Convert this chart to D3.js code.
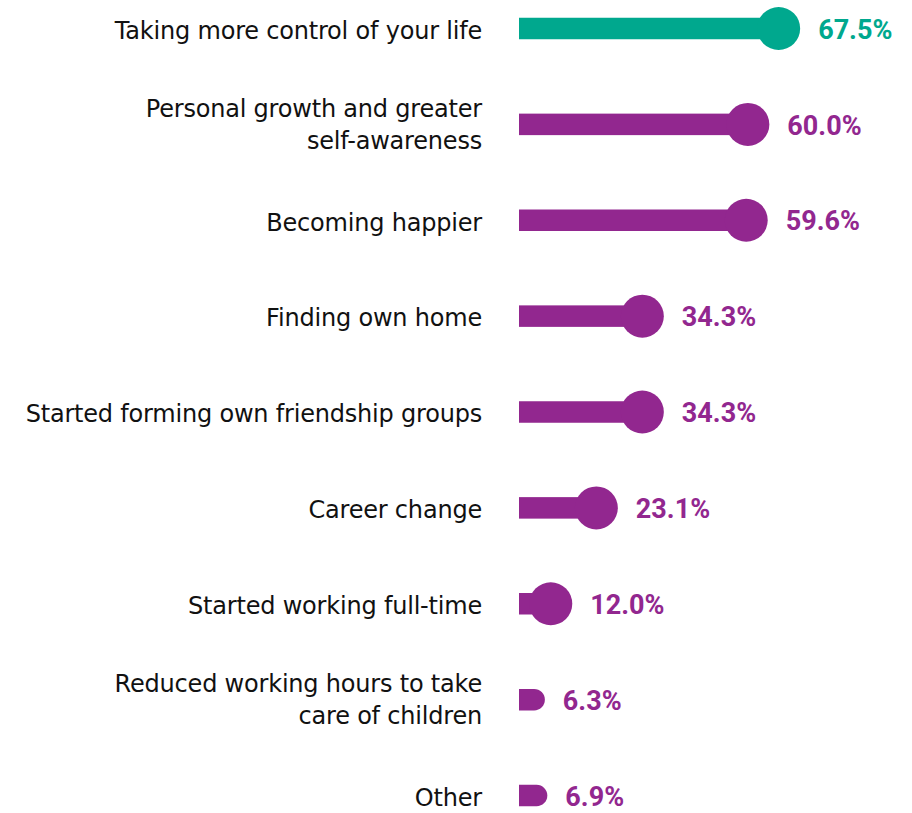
<!DOCTYPE html>
<html>
<head>
<meta charset="utf-8">
<script src="https://cdn.jsdelivr.net/npm/d3@7"></script>
<style>
  html, body { margin: 0; padding: 0; background: #fff; }
  svg { display: block; }
</style>
</head>
<body>
<svg id="chart" width="912" height="813"></svg>
<script>
const categories = [
  ["Taking more control of your life"],
  ["Personal growth and greater", "self-awareness"],
  ["Becoming happier"],
  ["Finding own home"],
  ["Started forming own friendship groups"],
  ["Career change"],
  ["Started working full-time"],
  ["Reduced working hours to take", "care of children"],
  ["Other"]
];
const values = [67.5, 60.0, 59.6, 34.3, 34.3, 23.1, 12.0, 6.3, 6.9];
const valueLabels = ["67.5%", "60.0%", "59.6%", "34.3%", "34.3%", "23.1%", "12.0%", "6.3%", "6.9%"];
const highlight = [true, false, false, false, false, false, false, false, false];

const TEAL = "#00A88E";
const PURPLE = "#92278F";

const svg = d3.select("#chart");
const x = d3.scaleLinear().domain([0, 100]).range([519, 929.6]);
const y = d3.scalePoint().domain(d3.range(values.length)).range([28.5, 795.5]);

const barH = 21.5;
const r = 21.5;
const capOffset = 17.5;

const rows = svg.selectAll("g.row").data(values).join("g").attr("class", "row")
  .attr("transform", (d, i) => `translate(0,${y(i)})`);

rows.each(function(v, i) {
  const g = d3.select(this);
  const col = highlight[i] ? TEAL : PURPLE;
  const end = x(v);
  const cx = end - capOffset;
  const big = cx - r >= x(0);
  if (big) {
    g.append("rect").attr("x", x(0)).attr("y", -barH / 2)
      .attr("width", cx - x(0)).attr("height", barH).attr("fill", col);
    g.append("circle").attr("cx", cx).attr("cy", 0).attr("r", r).attr("fill", col);
  } else {
    const h = barH / 2;
    const x0 = x(0);
    const p = d3.path();
    p.moveTo(x0, -h);
    p.lineTo(end - h, -h);
    p.arc(end - h, 0, h, -Math.PI / 2, Math.PI / 2);
    p.lineTo(x0, h);
    p.closePath();
    g.append("path").attr("d", p.toString()).attr("fill", col);
  }
  const labelX = big ? cx + r + 18 : end + 18;
  g.append("text").attr("x", labelX).attr("y", 10.2)
    .attr("fill", col)
    .style("font-family", "Roboto, sans-serif").style("font-weight", "700")
    .style("font-size", "27px")
    .text(valueLabels[i]);

  const lines = categories[i];
  const lh = 31.7;
  const base = lines.length > 1 ? 8.6 : 10.3;
  const t = g.append("text").attr("text-anchor", "end")
    .attr("fill", "#111")
    .style("font-family", "'DejaVu Sans', sans-serif").style("font-size", "24px")
    .style("letter-spacing", "-0.2px");
  lines.forEach((ln, j) => {
    t.append("tspan").attr("x", 482)
      .attr("y", (j - (lines.length - 1) / 2) * lh + base)
      .text(ln);
  });
});
</script>
</body>
</html>
